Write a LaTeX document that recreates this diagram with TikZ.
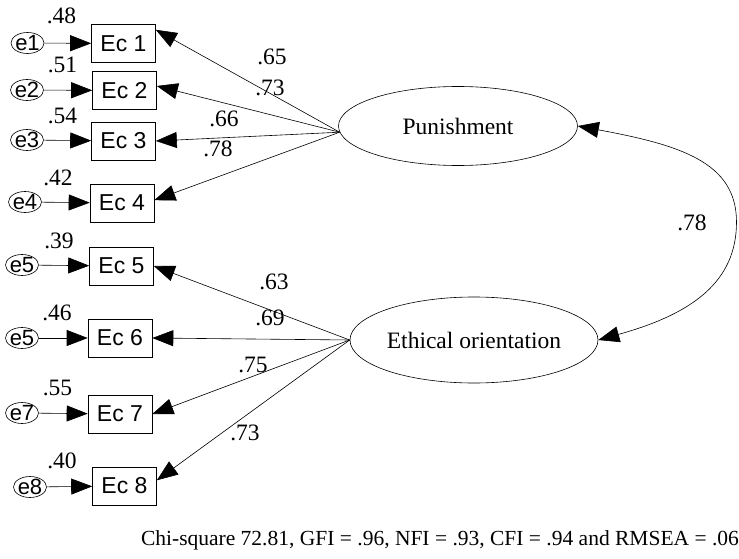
\documentclass[tikz,border=0pt]{standalone}
\usepackage{fontspec}
\setmainfont{Liberation Serif}
\newfontfamily\arialfont{Liberation Sans}
\usetikzlibrary{positioning,arrows.meta,shapes.geometric}

\begin{document}
\begin{tikzpicture}[
    x=1pt, y=-1pt,
    line width=0.6pt,
    >={Triangle[length=21pt,width=16pt]},
    obs/.style={rectangle, draw, minimum width=64pt, minimum height=38pt, inner sep=0pt, font=\arialfont\fontsize{23}{26}\selectfont},
    err/.style={ellipse, draw, inner sep=-3pt, minimum width=33pt, minimum height=21pt, font=\arialfont\fontsize{22}{24}\selectfont},
    lat/.style={ellipse, draw, inner sep=-40pt, font=\fontsize{23.5}{26}\selectfont},
    est/.style={inner sep=0pt, font=\fontsize{23.5}{26}\selectfont}
]
  \useasboundingbox (0,0) rectangle (739,559);

  % latent factors
  \node[lat, minimum width=239pt, minimum height=79pt] (pun) at (458,126) {Punishment};
  \node[lat, minimum width=248pt, minimum height=86pt] (eth) at (474,340) {Ethical orientation};

  % observed items
  \node[obs] (ec1) at (123.5,43.5) {Ec 1};
  \node[obs] (ec2) at (124.5,90.5) {Ec 2};
  \node[obs] (ec3) at (123.5,141) {Ec 3};
  \node[obs] (ec4) at (122,203) {Ec 4};
  \node[obs] (ec5) at (121.5,266) {Ec 5};
  \node[obs] (ec6) at (120,338) {Ec 6};
  \node[obs] (ec7) at (120,414) {Ec 7};
  \node[obs] (ec8) at (124.5,486) {Ec 8};

  % error terms
  \node[err] (e1) at (27.5,43) {e1};
  \node[err] (e2) at (27,90) {e2};
  \node[err] (e3) at (27,140) {e3};
  \node[err] (e4) at (25,202) {e4};
  \node[err] (e5) at (22,265) {e5};
  \node[err] (e6) at (22,338) {e5};
  \node[err] (e7) at (22,413) {e7};
  \node[err] (e8) at (30,487) {e8};

  \foreach \i in {1,...,8}
    \draw[->] (e\i) -- (ec\i);

  % squared multiple correlations
  \node[est] (r1) at (61.5,16) {.48};
  \node[est] (r2) at (62.5,65) {.51};
  \node[est] (r3) at (62.5,116) {.54};
  \node[est] (r4) at (58,178) {.42};
  \node[est] (r5) at (59,241) {.39};
  \node[est] (r6) at (57,313) {.46};
  \node[est] (r7) at (57.5,388) {.55};
  \node[est] (r8) at (62,461) {.40};

  % loadings
  \draw[->] (pun.183) -- (ec1.23);
  \draw[->] (pun.183) -- (ec2.8);
  \draw[->] (pun.183) -- (ec3.east);
  \draw[->] (pun.183) -- (ec4.5);
  \draw[->] (eth.west) -- (ec5.east);
  \draw[->] (eth.west) -- (ec6.east);
  \draw[->] (eth.west) -- (ec7.east);
  \draw[->] (eth.west) -- (ec8.10);

  \node[est] (l1) at (272,57) {.65};
  \node[est] (l2) at (270,88) {.73};
  \node[est] (l3) at (224,119) {.66};
  \node[est] (l4) at (218,149) {.78};
  \node[est] (l5) at (274,282) {.63};
  \node[est] (l6) at (270,318) {.69};
  \node[est] (l7) at (253,365) {.75};
  \node[est] (l8) at (245,433) {.73};

  % factor correlation
  \coordinate (rim) at (736.5,222);
  \draw[<->] (pun.east) .. controls (680,145) and (736.5,162) .. (rim)
    .. controls (736.5,282) and (692,314) .. (eth.east);
  \node[est] (cor) at (692,223) {.78};

  \node[font=\fontsize{21.5}{24}\selectfont, inner sep=0pt] (fit) at (440,540)
    {Chi-square 72.81, GFI = .96, NFI = .93, CFI = .94 and RMSEA = .06};
\end{tikzpicture}
\end{document}
